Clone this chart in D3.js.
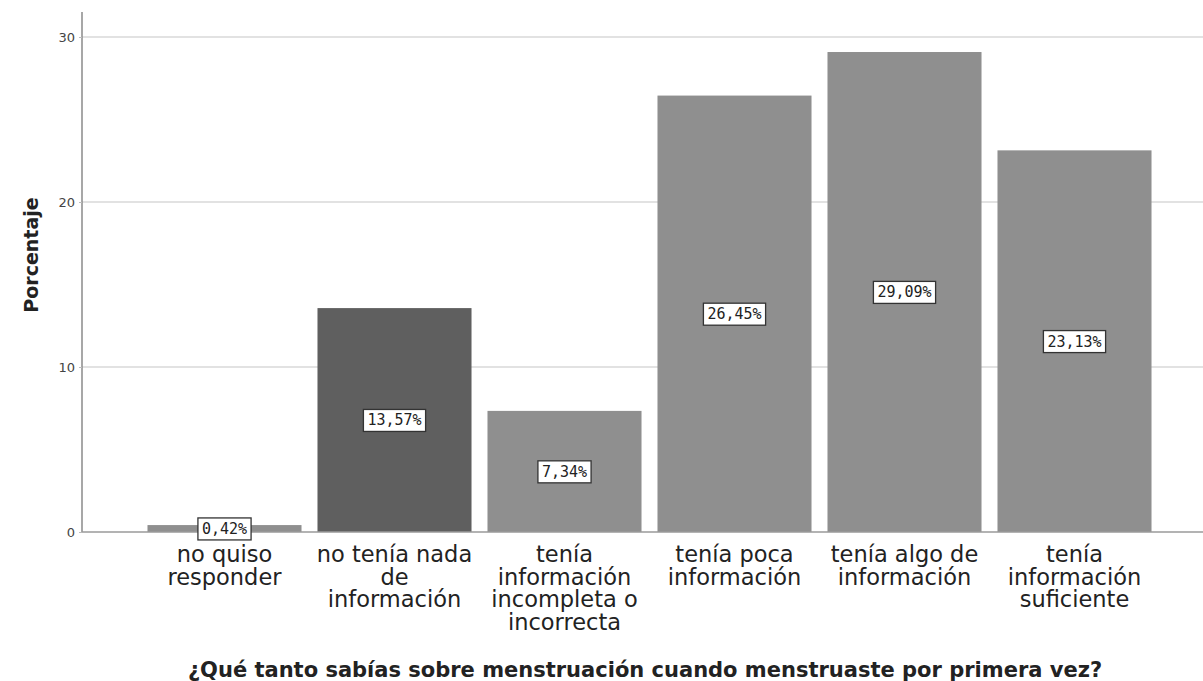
<!DOCTYPE html>
<html>
<head>
<meta charset="utf-8">
<script src="https://cdn.jsdelivr.net/npm/d3@7"></script>
<style>
  html, body { margin: 0; padding: 0; background: #fff; }
  svg { display: block; }
</style>
</head>
<body>
<svg id="chart" width="1203" height="681"></svg>
<script>
const categories = [
  ["no quiso", "responder"],
  ["no tenía nada", "de", "información"],
  ["tenía", "información", "incompleta o", "incorrecta"],
  ["tenía poca", "información"],
  ["tenía algo de", "información"],
  ["tenía", "información", "suficiente"]
];
const percentages = [0.42, 13.57, 7.34, 26.45, 29.09, 23.13];
const valueLabels = ["0,42%", "13,57%", "7,34%", "26,45%", "29,09%", "23,13%"];
const yTicks = [0, 10, 20, 30];
const highlightIndex = 1;
const yTitle = "Porcentaje";
const xTitle = "¿Qué tanto sabías sobre menstruación cuando menstruaste por primera vez?";

(function () {
const svg = d3.select("#chart");
const mLeft = 82, mRight = 1203, mTop = 12, mBottom = 532;

const keys = categories.map((c, i) => i);
const x = d3.scaleBand().domain(keys).range([139.5, 1159.5]).paddingInner(0.094).paddingOuter(0.047);
const y = d3.scaleLinear().domain([0, 30]).range([mBottom, 37]);

// gridlines
svg.append("g").selectAll("line").data(yTicks.filter(t => t > 0)).join("line")
  .attr("x1", mLeft).attr("x2", mRight)
  .attr("y1", d => y(d)).attr("y2", d => y(d))
  .attr("stroke", "#d9d9d9").attr("stroke-width", 1.5);

// bars
svg.append("g").selectAll("rect").data(percentages).join("rect")
  .attr("x", (d, i) => x(i))
  .attr("width", x.bandwidth())
  .attr("y", d => y(d))
  .attr("height", d => y(0) - y(d))
  .attr("fill", (d, i) => i === highlightIndex ? "#5f5f5f" : "#8f8f8f");

// axes lines
svg.append("line").attr("x1", mLeft).attr("x2", mLeft).attr("y1", mTop).attr("y2", mBottom)
  .attr("stroke", "#8a8a8a").attr("stroke-width", 1.5);
svg.append("line").attr("x1", mLeft).attr("x2", mRight).attr("y1", mBottom).attr("y2", mBottom)
  .attr("stroke", "#9a9a9a").attr("stroke-width", 1.5);

// y axis ticks
const yAxis = d3.axisLeft(y).tickValues(yTicks).tickSize(3).tickPadding(4).tickFormat(d3.format("d"));
const ya = svg.append("g").attr("transform", `translate(${mLeft},0)`).call(yAxis);
ya.select(".domain").remove();
ya.selectAll(".tick line").attr("stroke", "#bbb");
ya.selectAll(".tick text").attr("font-family", "DejaVu Sans").attr("font-size", 13).attr("fill", "#444");

// value labels
const lab = svg.append("g").selectAll("g").data(percentages).join("g")
  .attr("transform", (d, i) => `translate(${x(i) + x.bandwidth() / 2},${(y(0) + y(d)) / 2})`);
lab.append("text")
  .text((d, i) => valueLabels[i])
  .attr("text-anchor", "middle").attr("dy", "0.36em")
  .attr("font-family", "DejaVu Sans Mono").attr("font-size", 15).attr("fill", "#222");
lab.each(function () {
  const g = d3.select(this);
  const bb = g.select("text").node().getBBox();
  g.insert("rect", "text")
    .attr("x", bb.x - 4).attr("y", bb.y - 2)
    .attr("width", bb.width + 8).attr("height", bb.height + 4)
    .attr("fill", "#fff").attr("stroke", "#333").attr("stroke-width", 1.3);
});

// x category labels
const xl = svg.append("g").selectAll("text").data(categories).join("text")
  .attr("x", (d, i) => x(i) + x.bandwidth() / 2)
  .attr("y", 562)
  .attr("text-anchor", "middle")
  .attr("font-family", "DejaVu Sans").attr("font-size", 22.5).attr("fill", "#222");
xl.selectAll("tspan").data(d => d).join("tspan")
  .attr("x", function () { return d3.select(this.parentNode).attr("x"); })
  .attr("dy", (d, j) => j === 0 ? 0 : 22.7)
  .text(d => d);

// axis titles
svg.append("text")
  .attr("transform", `translate(31,255) rotate(-90)`)
  .attr("text-anchor", "middle").attr("dy", "0.35em")
  .attr("font-family", "DejaVu Sans").attr("font-weight", "bold").attr("font-size", 19).attr("fill", "#222")
  .text(yTitle);

svg.append("text")
  .attr("x", 645).attr("y", 677)
  .attr("text-anchor", "middle")
  .attr("font-family", "DejaVu Sans").attr("font-weight", "bold").attr("font-size", 21).attr("fill", "#222")
  .text(xTitle);
})();
</script>
</body>
</html>
